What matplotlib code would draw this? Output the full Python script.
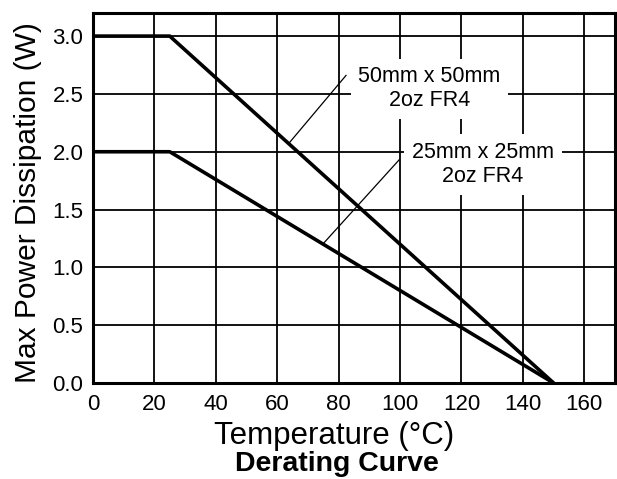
import matplotlib
matplotlib.use("Agg")
import matplotlib.pyplot as plt
import numpy as np

plt.rcParams['font.family'] = ['Liberation Sans', 'DejaVu Sans']

# derating curves: (temperature, max power) breakpoints
temp_50mm = [0, 25, 150]
power_50mm = [3.0, 3.0, 0.0]
temp_25mm = [0, 25, 150]
power_25mm = [2.0, 2.0, 0.0]

x_ticks = [0, 20, 40, 60, 80, 100, 120, 140, 160]
y_ticks = [0.0, 0.5, 1.0, 1.5, 2.0, 2.5, 3.0]

fig = plt.figure(figsize=(6.17, 4.79), dpi=100)
ax = fig.add_axes([0.1507, 0.2004, 0.8461, 0.7725])

ax.set_xlim(0, 170)
ax.set_ylim(0, 3.2)
ax.set_xticks(x_ticks)
ax.set_yticks(y_ticks)
ax.set_yticklabels(["%.1f" % v for v in y_ticks])
ax.tick_params(length=0, labelsize=16)
ax.tick_params(axis='y', pad=7)
ax.tick_params(axis='x', pad=8)
ax.grid(True, color='black', linewidth=1.3)
ax.set_axisbelow(True)
for s in ax.spines.values():
    s.set_linewidth(2.2)

ax.plot(temp_50mm, power_50mm, color='black', linewidth=2.6, solid_capstyle='butt', zorder=3)
ax.plot(temp_25mm, power_25mm, color='black', linewidth=2.6, solid_capstyle='butt', zorder=3)

# curve labels on white boxes that hide the grid behind them
box = dict(boxstyle='square,pad=0.35', facecolor='white', edgecolor='none')
ax.text(109.5, 2.545, "50mm x 50mm\n2oz FR4", ha='center', va='center',
        multialignment='center', fontsize=15.5, linespacing=1.2, bbox=box, zorder=4)
ax.text(127, 1.89, "25mm x 25mm\n2oz FR4", ha='center', va='center',
        multialignment='center', fontsize=15.5, linespacing=1.2, bbox=box, zorder=4)

# leader lines from labels to curves
ax.plot([82.4, 63.7], [2.66, 2.07], color='black', linewidth=0.9, zorder=5)
ax.plot([99.7, 74.8], [1.93, 1.20], color='black', linewidth=0.9, zorder=5)

fig.text(0.045, 0.578, "Max Power Dissipation (W)", rotation=90, ha='center', va='center', fontsize=21.5)
fig.text(0.541, 0.073, "Temperature (°C)", ha='center', va='baseline', fontsize=22.5)
fig.text(0.546, 0.016, "Derating Curve", ha='center', va='baseline', fontsize=20.5, fontweight='bold')

fig.savefig("out.png", dpi=100)
